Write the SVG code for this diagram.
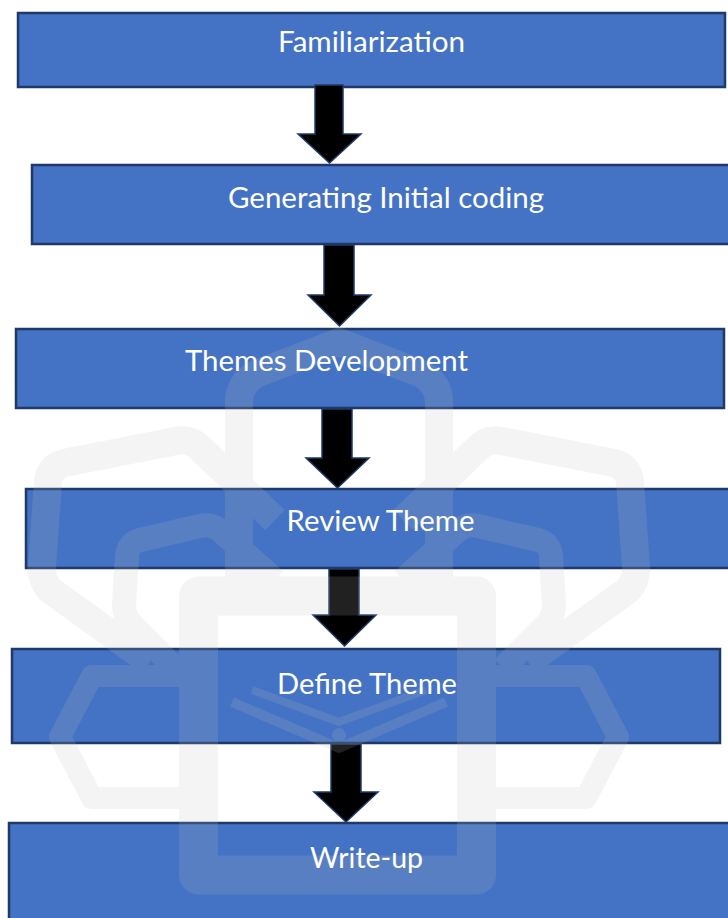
<svg xmlns="http://www.w3.org/2000/svg" xmlns:xlink="http://www.w3.org/1999/xlink" width="728" height="918" viewBox="0 0 728 918">
  <style>
    .box { fill: #4472c4; stroke: #1f3a68; stroke-width: 2.5; }
    .arrow { fill: #000000; stroke: #1f3a68; stroke-width: 1.5; stroke-linejoin: miter; }
    .label { font-family: Lato, "Open Sans", "Liberation Sans", sans-serif; font-size: 28px; fill: #ffffff; text-anchor: middle; }
    .wm { fill: none; stroke: #c0c0c0; stroke-linejoin: round; }
  </style>
  <rect x="0" y="0" width="728" height="918" fill="#ffffff"/>

  <g id="nodes">
    <g id="n1"><rect class="box" x="18" y="13" width="707" height="74"/></g>
    <g id="n2"><rect class="box" x="32" y="165" width="700" height="79"/></g>
    <g id="n3"><rect class="box" x="16" y="329" width="708" height="79"/></g>
    <g id="n4"><rect class="box" x="26" y="489" width="706" height="79"/></g>
    <g id="n5"><rect class="box" x="12" y="649" width="708" height="94"/></g>
    <g id="n6"><rect class="box" x="9" y="823" width="722" height="110"/></g>
  </g>

  <g id="connectors">
    <polygon class="arrow" points="315,85 343,85 343,134 361,134 329.5,163 298,134 315,134"/>
    <polygon class="arrow" points="324,245 354,245 354,295 371,295 339.5,326 308,295 324,295"/>
    <polygon class="arrow" points="322,409 352,409 352,458 369,458 337.5,488 306,458 322,458"/>
    <polygon class="arrow" points="329,569 359,569 359,615 376,615 344.5,646 313,615 329,615"/>
    <polygon class="arrow" points="331,744 361,744 361,792 378,792 346,822 314,792 331,792"/>
  </g>

  <g id="watermark" opacity="0.17">
    <path class="wm" stroke-width="28" stroke-linejoin="miter" d="M239,600 V402 Q239,384 256,374 L339,342 L422,374 Q439,384 439,402 V600"/>
    <rect class="wm" stroke-width="39" x="198.5" y="596" width="278" height="279"/>
    <g id="wmL">
      <path class="wm" stroke-width="28" d="M275,520 L200,448 Q190,438 176,441 L64,463 Q50,467 48,481 L42,567 Q41,580 50,590 L150,662"/>
      <path class="wm" stroke-width="24" d="M275,580 L222,532 Q212,523 200,526 L140,540 Q128,543 127,556 L124,605 Q124,617 132,625 L175,668"/>
      <path class="wm" stroke-width="22" d="M182,676 L92,676 L60,737 L92,798 L182,798"/>
    </g>
    <use xlink:href="#wmL" transform="translate(678,0) scale(-1,1)"/>
    <path class="wm" stroke-width="10" d="M232,702 L339,748 L446,702"/>
    <path class="wm" stroke-width="8" d="M252,690 L339,722 L426,690"/>
    <circle cx="339" cy="735" r="7" fill="#c0c0c0"/>
  </g>

  <g id="labels">
    <text class="label" x="371.5" y="52" textLength="187" lengthAdjust="spacingAndGlyphs">Familiarization</text>
    <text class="label" x="386" y="208" textLength="316" lengthAdjust="spacingAndGlyphs">Generating Initial coding</text>
    <text class="label" x="326.5" y="370.5" textLength="283" lengthAdjust="spacingAndGlyphs">Themes Development</text>
    <text class="label" x="380.5" y="530.5" textLength="188" lengthAdjust="spacingAndGlyphs">Review Theme</text>
    <text class="label" x="367" y="694" textLength="180" lengthAdjust="spacingAndGlyphs">Define Theme</text>
    <text class="label" x="366.5" y="867.5" textLength="113" lengthAdjust="spacingAndGlyphs">Write-up</text>
  </g>
</svg>
